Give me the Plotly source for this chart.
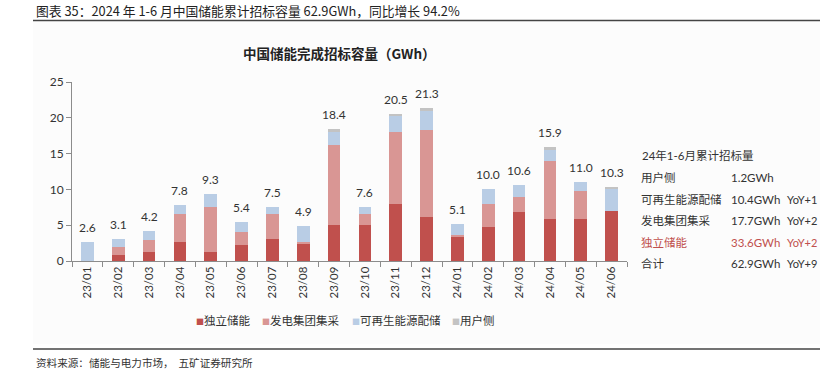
import plotly.graph_objects as go

# ---------------- data ----------------
months = ["23/01", "23/02", "23/03", "23/04", "23/05", "23/06", "23/07", "23/08", "23/09",
          "23/10", "23/11", "23/12", "24/01", "24/02", "24/03", "24/04", "24/05", "24/06"]
independent = [0.0, 0.9, 1.3, 2.7, 1.2, 2.3, 3.1, 2.4, 5.0, 5.0, 7.9, 6.2, 3.4, 4.8, 6.8, 5.8, 5.9, 7.0]
gen_group = [0.0, 1.1, 1.6, 3.8, 6.4, 1.8, 3.5, 0.3, 11.2, 1.6, 10.1, 12.1, 0.2, 3.1, 2.1, 8.1, 3.9, 0.0]
renewable = [2.6, 1.1, 1.3, 1.3, 1.7, 1.3, 0.9, 2.2, 1.8, 1.0, 2.3, 2.6, 1.5, 2.1, 1.7, 1.6, 1.2, 3.0]
user_side = [0.0, 0.0, 0.0, 0.0, 0.0, 0.0, 0.0, 0.0, 0.4, 0.0, 0.2, 0.4, 0.0, 0.0, 0.0, 0.4, 0.0, 0.3]
totals = [2.6, 3.1, 4.2, 7.8, 9.3, 5.4, 7.5, 4.9, 18.4, 7.6, 20.5, 21.3, 5.1, 10.0, 10.6, 15.9, 11.0, 10.3]

series_names = ["独立储能", "发电集团集采", "可再生能源配储", "用户侧"]
series_colors = ["#C0504D", "#D99694", "#B9CDE5", "#C3C3C3"]

side_title = "24年1-6月累计招标量"
side_labels = ["用户侧", "可再生能源配储", "发电集团集采", "独立储能", "合计"]
side_values = ["1.2GWh", "10.4GWh", "17.7GWh", "33.6GWh", "62.9GWh"]
side_yoy = ["", "YoY+1", "YoY+2", "YoY+2", "YoY+9"]

header = "图表 35：2024 年 1-6 月中国储能累计招标容量 62.9GWh，同比增长 94.2%"
chart_title = "<b>中国储能完成招标容量（GWh）</b>"
footer = "资料来源：储能与电力市场，  五矿证券研究所"

FONT = "Lato, 'Noto Sans CJK SC', sans-serif"
CJK = "'Noto Sans CJK SC', sans-serif"

# ---------------- layout geometry ----------------
W, H = 820, 380
ML, MR, MT, MB = 72, 193, 82, 119
PW, PH = W - ML - MR, H - MT - MB


def px(x):
    return (x - ML) / PW


def py(y):
    return (H - MB - y) / PH


fig = go.Figure()
for name, vals, col in zip(series_names, [independent, gen_group, renewable, user_side], series_colors):
    fig.add_trace(go.Bar(x=months, y=vals, name=name, marker=dict(color=col, line=dict(width=0)),
                         showlegend=False))

annotations = []
# value labels above bars
for m, t in zip(months, totals):
    annotations.append(dict(x=m, y=t, xref="x", yref="y", text=f"{t:.1f}", showarrow=False,
                            yanchor="bottom", yshift=5, font=dict(family=FONT, size=12, color="#333333")))

# header, chart title, footer
annotations.append(dict(x=px(35), y=py(0.5), xref="paper", yref="paper", text=header, showarrow=False,
                        xanchor="left", yanchor="top", borderpad=0,
                        font=dict(family=CJK, size=12.8, color="#222222")))
annotations.append(dict(x=px(339), y=py(53), xref="paper", yref="paper", text=chart_title, showarrow=False,
                        xanchor="center", yanchor="middle", font=dict(family=CJK, size=13.5, color="#222222")))
annotations.append(dict(x=px(34), y=py(362), xref="paper", yref="paper", text=footer, showarrow=False,
                        xanchor="left", yanchor="middle", font=dict(family=CJK, size=10.6, color="#333333")))

# legend built from series names/colours
leg_x = [194, 260, 350, 450]
for name, col, lx in zip(series_names, series_colors, leg_x):
    annotations.append(dict(x=px(lx), y=py(320), xref="paper", yref="paper",
                            text=f"<span style='font-size:8px;color:{col}'>■</span>{name}",
                            showarrow=False, xanchor="left", yanchor="middle",
                            font=dict(family=CJK, size=11.5, color="#333333")))

# side table
annotations.append(dict(x=px(640), y=py(155), xref="paper", yref="paper", text=side_title, showarrow=False,
                        xanchor="left", yanchor="middle", font=dict(family=FONT, size=11.5, color="#333333")))
row_y = [177.5, 199, 220.5, 242, 263.5]
for lab, val, yoy, ry in zip(side_labels, side_values, side_yoy, row_y):
    col = "#C0504D" if lab == "独立储能" else "#333333"
    for txt, cx, fs in [(lab, 640, 11.5), (val, 730, 11.5), (yoy, 786, 11)]:
        if txt:
            annotations.append(dict(x=px(cx), y=py(ry), xref="paper", yref="paper", text=txt,
                                    showarrow=False, xanchor="left", yanchor="middle", borderpad=0,
                                    font=dict(family=FONT, size=fs, color=col)))

shapes = [
    dict(type="rect", xref="paper", yref="paper", x0=px(33), x1=px(820), y0=py(344), y1=py(21),
         fillcolor="#FCFCFC", line=dict(width=0), layer="below"),
    dict(type="line", xref="paper", yref="paper", x0=px(33), x1=px(820), y0=py(20.5), y1=py(20.5),
         line=dict(color="#444444", width=1.5)),
    dict(type="line", xref="paper", yref="paper", x0=px(33), x1=px(820), y0=py(349), y1=py(349),
         line=dict(color="#444444", width=1.5)),
]

fig.update_layout(
    width=W, height=H,
    margin=dict(l=ML, r=MR, t=MT, b=MB, pad=0),
    barmode="stack", bargap=0.59,
    paper_bgcolor="white", plot_bgcolor="rgba(0,0,0,0)",
    showlegend=False,
    annotations=annotations, shapes=shapes,
    font=dict(family=FONT, size=12, color="#333333"),
)
fig.update_xaxes(type="category", showline=True, linecolor="#8C8C8C", linewidth=1,
                 ticks="outside", tickson="boundaries", ticklen=5, tickcolor="#8C8C8C",
                 tickangle=-90, tickfont=dict(family=FONT, size=11.5, color="#333333"),
                 showgrid=False, zeroline=False)
fig.update_yaxes(range=[0, 25], dtick=5, showline=True, linecolor="#8C8C8C", linewidth=1,
                 ticks="outside", ticklen=5, tickcolor="#8C8C8C",
                 tickfont=dict(family=FONT, size=12, color="#333333"),
                 showgrid=False, zeroline=False)

fig.write_html("out.html", config={"displayModeBar": False},
               post_script="document.body.style.margin='0';")
